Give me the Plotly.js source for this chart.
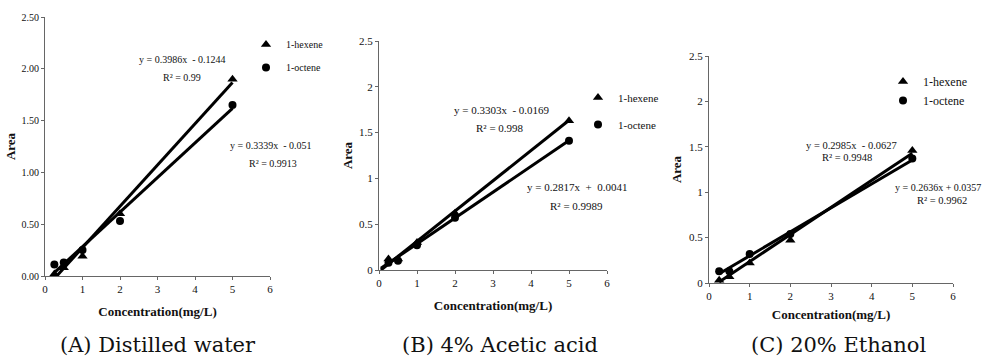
<!DOCTYPE html>
<html>
<head>
<meta charset="utf-8">
<script src="https://cdn.plot.ly/plotly-3.0.1.min.js"></script>
<style>html,body{margin:0;padding:0;background:#fff;}#chart{width:982px;height:358px;}</style>
</head>
<body>
<div id="chart"></div>
<script>
// ---- data ----
const concentration = [0.25, 0.5, 1, 2, 5];

const waterHexene  = [0.02, 0.08, 0.19, 0.60, 1.90];
const waterOctene  = [0.11, 0.13, 0.25, 0.53, 1.65];
const acidHexene   = [0.12, 0.12, 0.30, 0.62, 1.63];
const acidOctene   = [0.08, 0.10, 0.27, 0.57, 1.41];
const ethHexene    = [0.03, 0.07, 0.22, 0.47, 1.46];
const ethOctene    = [0.13, 0.13, 0.32, 0.54, 1.37];

// trendline coefficients as printed on the chart [slope, intercept]
const waterHexeneFit = [0.3986, -0.1244];
const waterOcteneFit = [0.3339, -0.051];
const acidHexeneFit  = [0.3303, -0.0169];
const acidOcteneFit  = [0.2817, 0.0041];
const ethHexeneFit   = [0.2985, -0.0627];
const ethOcteneFit   = [0.2636, 0.0357];

// x extent of each panel's trendlines
const waterFitRange = [0.27, 5];
const acidFitRange  = [0.05, 5];
const ethFitRange   = [0.25, 5];

const equationLabels = [
  "y = 0.3986x  - 0.1244", "R² = 0.99",
  "y = 0.3339x  - 0.051",  "R² = 0.9913",
  "y = 0.3303x  - 0.0169", "R² = 0.998",
  "y = 0.2817x  +  0.0041", "R² = 0.9989",
  "y = 0.2985x  - 0.0627", "R² = 0.9948",
  "y = 0.2636x + 0.0357", "R² = 0.9962"
];
const seriesNames = ["1-hexene", "1-octene"];
const panelCaptions = ["(A) Distilled water", "(B) 4% Acetic acid", "(C) 20% Ethanol"];
const xTitle = "Concentration(mg/L)";
const yTitle = "Area";

// ---- drawing ----
const SERIF = "Liberation Serif, Times New Roman, serif";
const W = 982, H = 358;
const px = v => v / W;
const py = v => 1 - v / H;

function fitLine(fit, range) {
  return {x: range.slice(), y: range.map(v => fit[0] * v + fit[1])};
}

const traces = [];
function addPanel(ax, legendId, hex, oct, hexFit, octFit, range) {
  const xa = 'x' + ax, ya = 'y' + ax;
  const hl = fitLine(hexFit, range), ol = fitLine(octFit, range);
  traces.push({x: hl.x, y: hl.y, xaxis: xa, yaxis: ya, mode: 'lines',
    line: {color: '#000', width: 3}, showlegend: false, hoverinfo: 'skip'});
  traces.push({x: ol.x, y: ol.y, xaxis: xa, yaxis: ya, mode: 'lines',
    line: {color: '#000', width: 3}, showlegend: false, hoverinfo: 'skip'});
  traces.push({x: concentration, y: hex, xaxis: xa, yaxis: ya, mode: 'markers',
    name: seriesNames[0], legend: legendId, legendgroup: legendId + 'h',
    marker: {symbol: 'triangle-up', size: 9, color: '#000'}});
  traces.push({x: concentration, y: oct, xaxis: xa, yaxis: ya, mode: 'markers',
    name: seriesNames[1], legend: legendId, legendgroup: legendId + 'o',
    marker: {symbol: 'circle', size: 8, color: '#000'}});
}
addPanel('', 'legend', waterHexene, waterOctene, waterHexeneFit, waterOcteneFit, waterFitRange);
addPanel('2', 'legend2', acidHexene, acidOctene, acidHexeneFit, acidOcteneFit, acidFitRange);
addPanel('3', 'legend3', ethHexene, ethOctene, ethHexeneFit, ethOcteneFit, ethFitRange);

function xAxis(domain, anchor, standoff) {
  return {domain: domain, anchor: anchor, range: [0, 6], dtick: 1, tick0: 0,
    showgrid: false, zeroline: false, showline: true, linecolor: '#666', linewidth: 1,
    ticks: 'outside', ticklen: 3, tickcolor: '#666', automargin: false,
    tickfont: {family: SERIF, size: 11, color: '#111'},
    title: {text: xTitle, standoff: standoff,
      font: {family: SERIF, size: 13, color: '#111', weight: 'bold'}}};
}
function yAxis(domain, anchor, fmt, fs, standoff) {
  return {domain: domain, anchor: anchor, range: [0, 2.5], dtick: 0.5, tick0: 0,
    tickformat: fmt, showgrid: false, zeroline: false, showline: true,
    linecolor: '#666', linewidth: 1, ticks: 'outside', ticklen: 3, tickcolor: '#666',
    automargin: false, tickfont: {family: SERIF, size: fs, color: '#111'},
    title: {text: yTitle, standoff: standoff,
      font: {family: SERIF, size: 13, color: '#111', weight: 'bold'}}};
}
function legendBox(left, top, fs, gap) {
  return {x: px(left), xanchor: 'left', y: py(top), yanchor: 'top',
    bgcolor: 'rgba(0,0,0,0)', borderwidth: 0, itemwidth: 30,
    traceorder: 'grouped', tracegroupgap: gap,
    font: {family: SERIF, size: fs, color: '#111'}};
}

function ann(text, x, y, fs, xanchor) {
  return {text: text, xref: 'paper', yref: 'paper', x: px(x), y: py(y),
    xanchor: xanchor || 'center', yanchor: 'middle', showarrow: false,
    font: {family: SERIF, size: fs, color: '#111'}};
}

const annotations = [
  ann(equationLabels[0], 182, 60, 10),  ann(equationLabels[1], 182, 77, 10),
  ann(equationLabels[2], 270, 145, 10), ann(equationLabels[3], 273, 163, 10),
  ann(equationLabels[4], 502, 110, 11), ann(equationLabels[5], 500, 128, 11),
  ann(equationLabels[6], 577, 187, 11), ann(equationLabels[7], 576, 206, 11),
  ann(equationLabels[8], 851, 145, 10.5), ann(equationLabels[9], 847, 158, 10.5),
  ann(equationLabels[10], 893, 187, 10, 'left'), ann(equationLabels[11], 942, 200, 10.5)
];
const capX = [158, 500, 838];
panelCaptions.forEach((c, i) => annotations.push({text: c, xref: 'paper', yref: 'paper',
  x: px(capX[i]), y: py(345), xanchor: 'center', yanchor: 'middle', showarrow: false,
  font: {family: 'DejaVu Serif, serif', size: 21, color: '#111'}}));

const layout = {
  width: W, height: H, margin: {l: 0, r: 0, t: 0, b: 0},
  paper_bgcolor: '#fff', plot_bgcolor: '#fff', showlegend: true,
  xaxis: xAxis([px(45), px(270)], 'y', 12),
  yaxis: yAxis([py(276), py(17)], 'x', '.2f', 10, 2),
  xaxis2: xAxis([px(379), px(607)], 'y2', 12),
  yaxis2: yAxis([py(270), py(41)], 'x2', '', 11, 3),
  xaxis3: xAxis([px(709), px(953)], 'y3', 8),
  yaxis3: yAxis([py(283), py(56)], 'x3', '', 11, 4),
  legend: legendBox(246, 30, 10, 4),
  legend2: legendBox(578, 83, 11, 8),
  legend3: legendBox(883, 67, 12, 0),
  annotations: annotations
};

Plotly.newPlot('chart', traces, layout, {displayModeBar: false, staticPlot: true});
</script>
</body>
</html>
